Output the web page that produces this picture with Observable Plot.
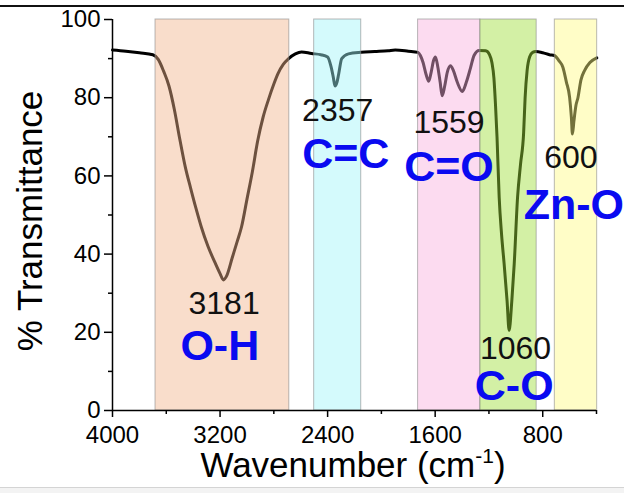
<!DOCTYPE html>
<html>
<head>
<meta charset="utf-8">
<script src="https://cdn.jsdelivr.net/npm/d3@7"></script>
<script src="https://cdn.jsdelivr.net/npm/@observablehq/plot@0.6"></script>
<style>
  html, body { margin: 0; padding: 0; background: #fff; }
  #wrap { position: relative; width: 624px; height: 493px; overflow: hidden; }
  #topline { position: absolute; left: 0; top: 5px; width: 624px; height: 1.5px; background: #111; }
  #bottomband { position: absolute; left: 0; top: 487px; width: 624px; height: 6px; background: #f3f3f3; border-top: 1px solid #d4d4d4; }
</style>
</head>
<body>
<div id="wrap"><div id="chart"></div><div id="topline"></div><div id="bottomband"></div></div>
<script>
// ---------- data ----------
const wavenumber = [
  4000, 3900, 3800, 3700, 3660, 3620, 3580, 3540, 3500, 3460, 3420, 3380, 3340, 3290, 3240, 3200, 3175, 3150, 3110, 3070,
  3040, 3000, 2960, 2920, 2880, 2840, 2800, 2770, 2730, 2690, 2640, 2594, 2520, 2450, 2400, 2375, 2358, 2345, 2330, 2318,
  2295, 2245, 2150, 2050, 1950, 1897, 1800, 1727, 1710, 1690, 1668, 1648, 1630, 1612, 1598, 1581, 1563, 1548, 1529, 1510,
  1486, 1465, 1436, 1398, 1368, 1338, 1311, 1273, 1224, 1196, 1178, 1163, 1151, 1140, 1124, 1106, 1087, 1065, 1050, 1030,
  1012, 987, 965, 942, 931, 916, 897, 875, 852, 800, 750, 713, 680, 650, 624, 600, 587, 579, 568, 553,
  538, 516, 488, 449, 398
];
const transmittance = [
  92.2, 91.9, 91.5, 91.0, 89.8, 86.8, 83.0, 77.0, 69.5, 62.5, 57.0, 51.8, 47.0, 42.0, 38.0, 35.0, 33.4, 34.5, 39.0, 43.5,
  47.0, 54.0, 61.0, 69.0, 75.0, 79.5, 83.5, 86.1, 88.5, 90.0, 91.2, 91.7, 91.3, 91.0, 90.4, 88.0, 85.3, 83.0, 84.0, 86.0,
  90.0, 91.2, 91.6, 91.8, 92.0, 92.2, 91.9, 91.6, 90.8, 89.0, 86.0, 84.2, 86.5, 89.5, 90.4, 88.0, 84.0, 80.5, 83.0, 86.5,
  88.2, 87.0, 84.0, 81.6, 84.0, 87.5, 90.8, 92.1, 92.0, 91.0, 89.0, 85.0, 78.0, 70.0, 54.6, 45.0, 37.5, 28.0, 20.5, 28.0,
  37.5, 54.6, 63.0, 71.0, 80.0, 87.0, 90.5, 91.6, 91.8, 91.5, 91.0, 90.8, 89.5, 87.8, 84.0, 80.1, 75.0, 70.7, 74.0, 78.0,
  80.0, 84.5, 87.0, 89.0, 90.2
];

const bandGroups = ["O-H", "C=C", "C=O", "C-O", "Zn-O"];
const bandStart  = [3680, 2500, 1727, 1264, 710];
const bandEnd    = [2685, 2150, 1264, 845, 395];

const peakLabels  = ["3181", "2357", "1559", "1060", "600"];
const peakLabelWn = [3170, 2325, 1497, 1002, 590];
const peakLabelT  = [27.4, 76.7, 73.5, 15.9, 64.6];

const groupLabelWn = [3202, 2265, 1497, 1012, 568];
const groupLabelT  = [16.5, 65.5, 62.2, 6.2, 52.4];

const xMajorTicks = [4000, 3200, 2400, 1600, 800];
const xMinorTicks = [3600, 2800, 2000, 1200, 400];
const yMajorTicks = [0, 20, 40, 60, 80, 100];
const yMinorTicks = [10, 30, 50, 70, 90];

// ---------- styles ----------
const bandColors = ["#F2B48B", "#9FF4F8", "#F8AFDE", "#9DDE37", "#FFFA82"];
const FONT = "'Liberation Sans', Arial, Helvetica, sans-serif";

// ---------- tables ----------
const spectrum = wavenumber.map((w, i) => ({wn: w, t: transmittance[i]}));
const bands = bandGroups.map((g, i) => ({name: g, from: bandStart[i], to: bandEnd[i]}));
const peaks = peakLabels.map((p, i) => ({label: p, wn: peakLabelWn[i], t: peakLabelT[i]}));
const groups = bandGroups.map((g, i) => ({label: g, wn: groupLabelWn[i], t: groupLabelT[i]}));

const chart = Plot.plot({
  width: 624,
  height: 493,
  marginLeft: 112,
  marginRight: 28,
  marginTop: 19,
  marginBottom: 83,
  style: {fontFamily: FONT, color: "#000", background: "transparent", overflow: "visible"},
  x: {domain: [4000, 400], axis: null},
  y: {domain: [0, 100], axis: null},
  color: {domain: bandGroups, range: bandColors},
  marks: [
    Plot.line(spectrum, {x: "wn", y: "t", stroke: "#000", strokeWidth: 3, curve: "monotone-x"}),
    Plot.rect(bands, {x1: "from", x2: "to", y1: 0, y2: 100, fill: "name", fillOpacity: 0.45,
                      stroke: "#8a8a8a", strokeOpacity: 0.6, strokeWidth: 1}),
    Plot.ruleX([4000], {stroke: "#000", strokeWidth: 1.5}),
    Plot.ruleY([0], {stroke: "#000", strokeWidth: 1.5}),
    Plot.axisX(xMajorTicks, {tickSize: 7, tickPadding: 8, fontSize: 24, tickFormat: "d", label: null, strokeWidth: 1.5}),
    Plot.axisX(xMinorTicks, {tickSize: 4, tickFormat: () => "", label: null, strokeWidth: 1.5}),
    Plot.axisY(yMajorTicks, {tickSize: 8, tickPadding: 4, fontSize: 24, tickFormat: "d", label: null, strokeWidth: 1.5}),
    Plot.axisY(yMinorTicks, {tickSize: 4, tickFormat: () => "", label: null, strokeWidth: 1.5}),
    Plot.text(peaks, {x: "wn", y: "t", text: "label", fontSize: 32, fill: "#111"}),
    Plot.text(groups, {x: "wn", y: "t", text: "label", fontSize: 43, fontWeight: "bold", fill: "#0a0af0"})
  ]
});

document.getElementById("chart").appendChild(chart);

// axis titles
const svg = d3.select(chart);
svg.append("text")
  .attr("transform", "translate(42,221) rotate(-90)")
  .attr("text-anchor", "middle")
  .attr("font-family", FONT)
  .attr("font-size", 35)
  .attr("fill", "#000")
  .text("% Transmittance");

const xt = svg.append("text")
  .attr("x", 353)
  .attr("y", 477)
  .attr("text-anchor", "middle")
  .attr("font-family", FONT)
  .attr("font-size", 35)
  .attr("fill", "#000");
xt.append("tspan").text("Wavenumber (cm");
xt.append("tspan").attr("font-size", 21).attr("dy", -14).text("-1");
xt.append("tspan").attr("font-size", 35).attr("dy", 14).text(")");
</script>
</body>
</html>
